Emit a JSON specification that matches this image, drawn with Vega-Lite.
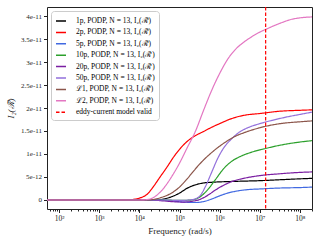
{
  "$schema": "https://vega.github.io/schema/vega-lite/v6.json",
  "width": 265,
  "height": 202,
  "autosize": {"type": "none"},
  "padding": {"left": 47, "top": 7, "right": 8, "bottom": 31},
  "config": {
    "font": "Liberation Serif",
    "view": {"stroke": "#222", "strokeWidth": 1},
    "axis": {"grid": false, "domain": false, "tickColor": "#222", "labelColor": "#222", "titleColor": "#222", "titleFontWeight": "normal"}
  },
  "datasets": {
    "c": [
      {"s":"1p","f":50,"v":0},{"s":"1p","f":25119,"v":0},{"s":"1p","f":39811,"v":0.02e-11},{"s":"1p","f":63096,"v":0.07e-11},{"s":"1p","f":100000,"v":0.15e-11},{"s":"1p","f":158489,"v":0.26e-11},{"s":"1p","f":251189,"v":0.33e-11},{"s":"1p","f":398107,"v":0.37e-11},{"s":"1p","f":630957,"v":0.385e-11},{"s":"1p","f":1584893,"v":0.40e-11},{"s":"1p","f":3981072,"v":0.41e-11},{"s":"1p","f":10000000,"v":0.42e-11},{"s":"1p","f":31622777,"v":0.44e-11},{"s":"1p","f":100000000,"v":0.46e-11},{"s":"1p","f":200000000,"v":0.47e-11},
      {"s":"2p","f":50,"v":0},{"s":"2p","f":3162,"v":0},{"s":"2p","f":6310,"v":0.01e-11},{"s":"2p","f":10000,"v":0.04e-11},{"s":"2p","f":15849,"v":0.13e-11},{"s":"2p","f":22387,"v":0.29e-11},{"s":"2p","f":31623,"v":0.48e-11},{"s":"2p","f":50119,"v":0.73e-11},{"s":"2p","f":70795,"v":0.93e-11},{"s":"2p","f":100000,"v":1.1e-11},{"s":"2p","f":158489,"v":1.28e-11},{"s":"2p","f":251189,"v":1.40e-11},{"s":"2p","f":398107,"v":1.49e-11},{"s":"2p","f":630957,"v":1.58e-11},{"s":"2p","f":1000000,"v":1.66e-11},{"s":"2p","f":1995262,"v":1.77e-11},{"s":"2p","f":3981072,"v":1.84e-11},{"s":"2p","f":10000000,"v":1.88e-11},{"s":"2p","f":31622777,"v":1.93e-11},{"s":"2p","f":100000000,"v":1.95e-11},{"s":"2p","f":200000000,"v":1.96e-11},
      {"s":"5p","f":50,"v":0},{"s":"5p","f":31623,"v":0},{"s":"5p","f":63096,"v":-0.02e-11},{"s":"5p","f":125893,"v":-0.045e-11},{"s":"5p","f":251189,"v":-0.055e-11},{"s":"5p","f":398107,"v":-0.035e-11},{"s":"5p","f":630957,"v":0.02e-11},{"s":"5p","f":1000000,"v":0.09e-11},{"s":"5p","f":1584893,"v":0.15e-11},{"s":"5p","f":2511886,"v":0.19e-11},{"s":"5p","f":5011872,"v":0.225e-11},{"s":"5p","f":10000000,"v":0.24e-11},{"s":"5p","f":31622777,"v":0.26e-11},{"s":"5p","f":100000000,"v":0.27e-11},{"s":"5p","f":200000000,"v":0.28e-11},
      {"s":"10p","f":50,"v":0},{"s":"10p","f":39811,"v":0},{"s":"10p","f":100000,"v":-0.01e-11},{"s":"10p","f":199526,"v":0},{"s":"10p","f":316228,"v":0.06e-11},{"s":"10p","f":501187,"v":0.22e-11},{"s":"10p","f":794328,"v":0.45e-11},{"s":"10p","f":1258925,"v":0.68e-11},{"s":"10p","f":1995262,"v":0.84e-11},{"s":"10p","f":3162278,"v":0.94e-11},{"s":"10p","f":6309573,"v":1.04e-11},{"s":"10p","f":12589254,"v":1.11e-11},{"s":"10p","f":31622777,"v":1.19e-11},{"s":"10p","f":100000000,"v":1.26e-11},{"s":"10p","f":200000000,"v":1.29e-11},
      {"s":"20p","f":50,"v":0},{"s":"20p","f":19953,"v":0},{"s":"20p","f":39811,"v":-0.02e-11},{"s":"20p","f":79433,"v":-0.04e-11},{"s":"20p","f":125893,"v":-0.045e-11},{"s":"20p","f":199526,"v":-0.03e-11},{"s":"20p","f":316228,"v":0.01e-11},{"s":"20p","f":501187,"v":0.10e-11},{"s":"20p","f":794328,"v":0.22e-11},{"s":"20p","f":1258925,"v":0.32e-11},{"s":"20p","f":1995262,"v":0.40e-11},{"s":"20p","f":3981072,"v":0.47e-11},{"s":"20p","f":10000000,"v":0.53e-11},{"s":"20p","f":31622777,"v":0.57e-11},{"s":"20p","f":100000000,"v":0.60e-11},{"s":"20p","f":200000000,"v":0.61e-11},
      {"s":"50p","f":50,"v":0},{"s":"50p","f":39811,"v":0},{"s":"50p","f":100000,"v":-0.01e-11},{"s":"50p","f":199526,"v":0.005e-11},{"s":"50p","f":316228,"v":0.08e-11},{"s":"50p","f":446684,"v":0.3e-11},{"s":"50p","f":630957,"v":0.6e-11},{"s":"50p","f":891251,"v":0.9e-11},{"s":"50p","f":1258925,"v":1.13e-11},{"s":"50p","f":1995262,"v":1.33e-11},{"s":"50p","f":3162278,"v":1.48e-11},{"s":"50p","f":5011872,"v":1.57e-11},{"s":"50p","f":10000000,"v":1.66e-11},{"s":"50p","f":19952623,"v":1.73e-11},{"s":"50p","f":50118723,"v":1.81e-11},{"s":"50p","f":100000000,"v":1.86e-11},{"s":"50p","f":200000000,"v":1.91e-11},
      {"s":"ℒ1","f":50,"v":0},{"s":"ℒ1","f":15849,"v":0},{"s":"ℒ1","f":25119,"v":0.02e-11},{"s":"ℒ1","f":39811,"v":0.07e-11},{"s":"ℒ1","f":63096,"v":0.15e-11},{"s":"ℒ1","f":100000,"v":0.28e-11},{"s":"ℒ1","f":158489,"v":0.47e-11},{"s":"ℒ1","f":251189,"v":0.68e-11},{"s":"ℒ1","f":398107,"v":0.87e-11},{"s":"ℒ1","f":630957,"v":1.03e-11},{"s":"ℒ1","f":1000000,"v":1.17e-11},{"s":"ℒ1","f":1584893,"v":1.29e-11},{"s":"ℒ1","f":2511886,"v":1.39e-11},{"s":"ℒ1","f":3981072,"v":1.46e-11},{"s":"ℒ1","f":6309573,"v":1.52e-11},{"s":"ℒ1","f":10000000,"v":1.57e-11},{"s":"ℒ1","f":19952623,"v":1.63e-11},{"s":"ℒ1","f":39810717,"v":1.67e-11},{"s":"ℒ1","f":100000000,"v":1.70e-11},{"s":"ℒ1","f":200000000,"v":1.72e-11},
      {"s":"ℒ2","f":50,"v":0},{"s":"ℒ2","f":10000,"v":0},{"s":"ℒ2","f":15849,"v":0.01e-11},{"s":"ℒ2","f":25119,"v":0.08e-11},{"s":"ℒ2","f":39811,"v":0.25e-11},{"s":"ℒ2","f":63096,"v":0.5e-11},{"s":"ℒ2","f":100000,"v":0.8e-11},{"s":"ℒ2","f":158489,"v":1.15e-11},{"s":"ℒ2","f":251189,"v":1.5e-11},{"s":"ℒ2","f":398107,"v":1.95e-11},{"s":"ℒ2","f":630957,"v":2.38e-11},{"s":"ℒ2","f":1000000,"v":2.75e-11},{"s":"ℒ2","f":1584893,"v":3.06e-11},{"s":"ℒ2","f":2511886,"v":3.28e-11},{"s":"ℒ2","f":3981072,"v":3.43e-11},{"s":"ℒ2","f":6309573,"v":3.55e-11},{"s":"ℒ2","f":10000000,"v":3.65e-11},{"s":"ℒ2","f":15848932,"v":3.73e-11},{"s":"ℒ2","f":31622777,"v":3.84e-11},{"s":"ℒ2","f":63095734,"v":3.93e-11},{"s":"ℒ2","f":100000000,"v":3.96e-11},{"s":"ℒ2","f":200000000,"v":3.98e-11}
    ],
    "r": [{"s": "eddy", "f": 14000000}]
  },
  "layer": [
    {
      "data": {"name": "c"},
      "mark": {"type": "line", "strokeWidth": 1.2, "interpolate": "monotone", "clip": true},
      "encoding": {
        "x": {
          "field": "f", "type": "quantitative",
          "scale": {"type": "log", "domain": [50, 200000000], "nice": false},
          "axis": {
            "title": "Frequency (rad/s)", "titleFontSize": 9, "titlePadding": 4,
            "values": [60,70,80,90,100,200,300,400,500,600,700,800,900,1000,2000,3000,4000,5000,6000,7000,8000,9000,10000,20000,30000,40000,50000,60000,70000,80000,90000,100000,200000,300000,400000,500000,600000,700000,800000,900000,1000000,2000000,3000000,4000000,5000000,6000000,7000000,8000000,9000000,10000000,20000000,30000000,40000000,50000000,60000000,70000000,80000000,90000000,100000000,200000000],
            "labelExpr": "abs(log(datum.value)/LN10 - round(log(datum.value)/LN10)) < 0.001 ? '10' + ['⁰','¹','²','³','⁴','⁵','⁶','⁷','⁸','⁹'][round(log(datum.value)/LN10)] : ''",
            "tickSize": {"condition": {"test": "abs(log(datum.value)/LN10 - round(log(datum.value)/LN10)) < 0.001", "value": 3.5}, "value": 2},
            "labelFontSize": 7.5, "labelPadding": 2, "labelFlush": false, "labelOverlap": false
          }
        },
        "y": {
          "field": "v", "type": "quantitative",
          "scale": {"domain": [-1.96e-12, 4.196e-11], "nice": false, "zero": false},
          "axis": {
            "title": "I₂(ℛ̃)", "titleFontStyle": "italic", "titleFontSize": 9, "titlePadding": 5,
            "values": [0, 5e-12, 1e-11, 1.5e-11, 2e-11, 2.5e-11, 3e-11, 3.5e-11, 4e-11],
            "labelExpr": "datum.value == 0 ? '0' : format(datum.value, '.2~e')",
            "tickSize": 3.5, "labelFontSize": 7, "labelPadding": 2
          }
        },
        "color": {
          "field": "s", "type": "nominal",
          "scale": {
            "domain": ["1p","2p","5p","10p","20p","50p","ℒ1","ℒ2","eddy"],
            "range": ["#000000","#ff0000","#4169e1","#2ca02c","#7b1fa2","#9370db","#8c564b","#e377c2","#ff0000"]
          },
          "legend": {
            "title": null, "orient": "top-left", "offset": 4,
            "labelExpr": "datum.label == 'eddy' ? 'eddy-current model valid' : datum.label + ', PODP, N = 13, I₂(ℛ̃)'",
            "labelFontSize": 7.5, "symbolType": "stroke", "symbolSize": 100, "symbolStrokeWidth": 1.5,
            "rowPadding": 1.4, "labelOffset": 9, "padding": 4,
            "strokeColor": "#cccccc", "fillColor": "white", "cornerRadius": 3
          }
        },
        "strokeDash": {
          "field": "s", "type": "nominal",
          "scale": {
            "domain": ["1p","2p","5p","10p","20p","50p","ℒ1","ℒ2","eddy"],
            "range": [[1,0],[1,0],[1,0],[1,0],[1,0],[1,0],[1,0],[1,0],[3.5,2]]
          },
          "legend": {
            "title": null, "orient": "top-left", "offset": 4,
            "labelExpr": "datum.label == 'eddy' ? 'eddy-current model valid' : datum.label + ', PODP, N = 13, I₂(ℛ̃)'",
            "labelFontSize": 7.5, "symbolType": "stroke", "symbolSize": 100, "symbolStrokeWidth": 1.5,
            "rowPadding": 1.4, "labelOffset": 9, "padding": 4,
            "strokeColor": "#cccccc", "fillColor": "white", "cornerRadius": 3
          }
        }
      }
    },
    {
      "data": {"name": "r"},
      "mark": {"type": "rule", "strokeWidth": 1.2},
      "encoding": {
        "x": {"field": "f", "type": "quantitative"},
        "color": {"field": "s", "type": "nominal"},
        "strokeDash": {"field": "s", "type": "nominal"}
      }
    }
  ]
}
